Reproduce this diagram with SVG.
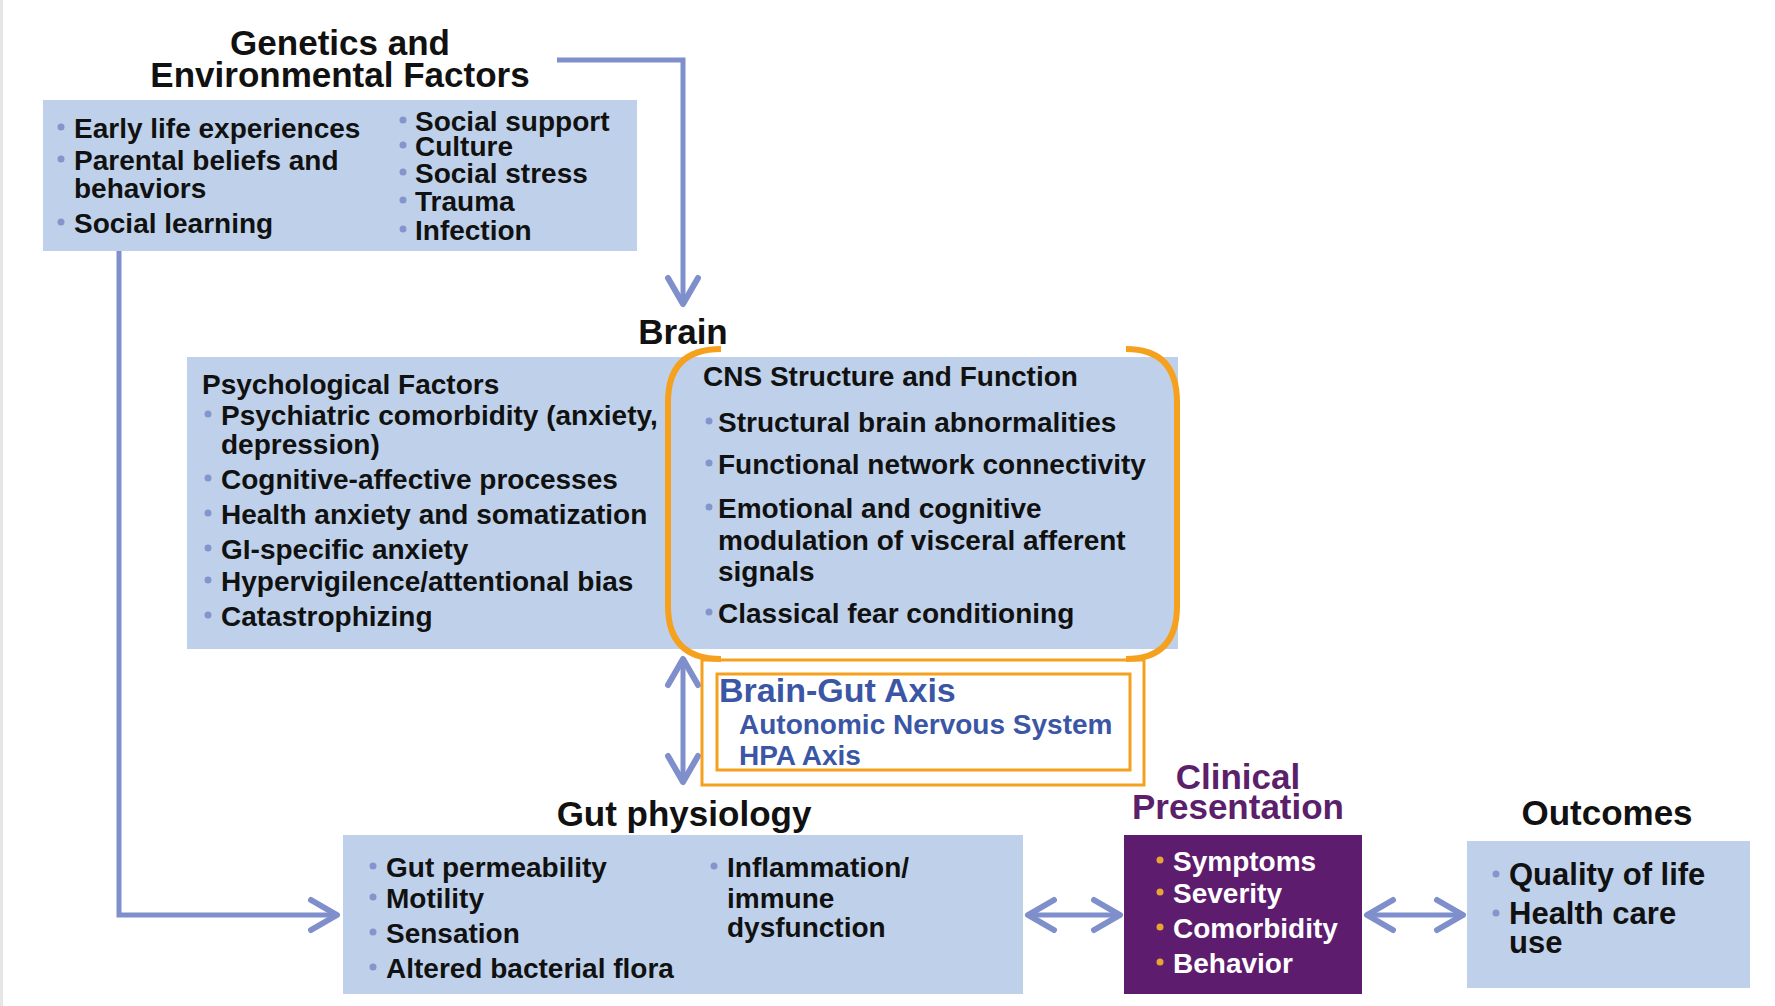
<svg xmlns="http://www.w3.org/2000/svg" width="1775" height="1006" viewBox="0 0 1775 1006">
<defs>
<style>
text { font-family: "Liberation Sans", Arial, sans-serif; font-weight: bold; }
.t { font-size: 28px; fill: #111; }
.h { font-size: 35px; fill: #111; text-anchor: middle; }
.box { fill: #bfd1ea; }
.b { fill: #8494cc; }
.g { fill: #e9a531; }
.w { font-size: 28px; fill: #fff; }
.o { font-size: 31px; fill: #111; }
.p { fill: #5b1f6b; }
.conn { fill: none; stroke: #7f8fcb; stroke-width: 5; }
.or { fill: none; stroke: #f6a11e; }
.bl { fill: #3b56a5; }
</style>
<marker id="ah" viewBox="-34 -22 40 44" refX="0" refY="0" markerWidth="40" markerHeight="44" markerUnits="userSpaceOnUse" orient="auto-start-reverse">
<path d="M -26 -15 L 0 0 L -26 15" fill="none" stroke="#7f8fcb" stroke-width="6" stroke-linecap="round" stroke-linejoin="round"/>
</marker>
</defs>
<rect x="0" y="0" width="1775" height="1006" fill="#fff"/>
<rect x="0" y="0" width="3" height="1006" fill="#e6e6e6"/>

<g id="connectors">
<path class="conn" d="M 557 60 L 683 60 L 683 304" marker-end="url(#ah)"/>
<path class="conn" d="M 119 251 L 119 915 L 337 915" marker-end="url(#ah)"/>
<path class="conn" d="M 683 659 L 683 782" marker-start="url(#ah)" marker-end="url(#ah)"/>
<path class="conn" d="M 1028 915 L 1120 915" marker-start="url(#ah)" marker-end="url(#ah)"/>
<path class="conn" d="M 1367 915 L 1463 915" marker-start="url(#ah)" marker-end="url(#ah)"/>
</g>

<g id="genetics">
<text class="h" x="340" y="55">Genetics and</text>
<text class="h" x="340" y="87">Environmental Factors</text>
<rect class="box" x="43" y="100" width="594" height="151"/>
<circle class="b" cx="61" cy="127" r="3.5"/>
<text class="t" x="74" y="138">Early life experiences</text>
<circle class="b" cx="61" cy="159" r="3.5"/>
<text class="t" x="74" y="170">Parental beliefs and</text>
<text class="t" x="74" y="198">behaviors</text>
<circle class="b" cx="61" cy="222" r="3.5"/>
<text class="t" x="74" y="233">Social learning</text>
<circle class="b" cx="403" cy="120" r="3.5"/>
<text class="t" x="415" y="131">Social support</text>
<circle class="b" cx="403" cy="145" r="3.5"/>
<text class="t" x="415" y="156">Culture</text>
<circle class="b" cx="403" cy="172" r="3.5"/>
<text class="t" x="415" y="183">Social stress</text>
<circle class="b" cx="403" cy="200" r="3.5"/>
<text class="t" x="415" y="211">Trauma</text>
<circle class="b" cx="403" cy="229" r="3.5"/>
<text class="t" x="415" y="240">Infection</text>
</g>

<g id="brain">
<text class="h" x="683" y="344">Brain</text>
<rect class="box" x="187" y="357" width="991" height="292"/>
</g>

<g id="psychological">
<text class="t" x="202" y="394">Psychological Factors</text>
<circle class="b" cx="208" cy="414" r="3.5"/>
<text class="t" x="221" y="425">Psychiatric comorbidity (anxiety,</text>
<text class="t" x="221" y="454">depression)</text>
<circle class="b" cx="208" cy="478" r="3.5"/>
<text class="t" x="221" y="489">Cognitive-affective processes</text>
<circle class="b" cx="208" cy="513" r="3.5"/>
<text class="t" x="221" y="524">Health anxiety and somatization</text>
<circle class="b" cx="208" cy="548" r="3.5"/>
<text class="t" x="221" y="559">GI-specific anxiety</text>
<circle class="b" cx="208" cy="580" r="3.5"/>
<text class="t" x="221" y="591">Hypervigilence/attentional bias</text>
<circle class="b" cx="208" cy="615" r="3.5"/>
<text class="t" x="221" y="626">Catastrophizing</text>
</g>

<g id="cns">
<path class="or" stroke-width="6" d="M 721 349 Q 668 349 668 402 L 668 606 Q 668 659 721 659"/>
<path class="or" stroke-width="6" d="M 1126 349 Q 1177 349 1177 402 L 1177 606 Q 1177 659 1126 659"/>
<text class="t" x="703" y="386">CNS Structure and Function</text>
<circle class="b" cx="709" cy="421" r="3.5"/>
<text class="t" x="718" y="432">Structural brain abnormalities</text>
<circle class="b" cx="709" cy="463" r="3.5"/>
<text class="t" x="718" y="474">Functional network connectivity</text>
<circle class="b" cx="709" cy="507" r="3.5"/>
<text class="t" x="718" y="518">Emotional and cognitive</text>
<text class="t" x="718" y="550">modulation of visceral afferent</text>
<text class="t" x="718" y="581">signals</text>
<circle class="b" cx="709" cy="612" r="3.5"/>
<text class="t" x="718" y="623">Classical fear conditioning</text>
</g>

<g id="brain-gut-axis">
<rect class="or" stroke-width="3" x="702" y="660" width="442" height="125"/>
<rect class="or" stroke-width="3" x="717" y="674" width="413" height="96"/>
<text class="bl" x="719" y="702" font-size="34">Brain-Gut Axis</text>
<text class="bl" x="739" y="734" font-size="28">Autonomic Nervous System</text>
<text class="bl" x="739" y="765" font-size="28">HPA Axis</text>
</g>

<g id="gut">
<text class="h" x="684" y="826">Gut physiology</text>
<rect class="box" x="343" y="835" width="680" height="159"/>
<circle class="b" cx="373" cy="866" r="3.5"/>
<text class="t" x="386" y="877">Gut permeability</text>
<circle class="b" cx="373" cy="897" r="3.5"/>
<text class="t" x="386" y="908">Motility</text>
<circle class="b" cx="373" cy="932" r="3.5"/>
<text class="t" x="386" y="943">Sensation</text>
<circle class="b" cx="373" cy="967" r="3.5"/>
<text class="t" x="386" y="978">Altered bacterial flora</text>
<circle class="b" cx="714" cy="866" r="3.5"/>
<text class="t" x="727" y="877">Inflammation/</text>
<text class="t" x="727" y="908">immune</text>
<text class="t" x="727" y="937">dysfunction</text>
</g>

<g id="clinical">
<text class="h p" x="1238" y="789">Clinical</text>
<text class="h p" x="1238" y="819">Presentation</text>
<rect x="1124" y="835" width="238" height="159" fill="#5e1c6e"/>
<circle class="g" cx="1160" cy="860" r="3.5"/>
<text class="w" x="1173" y="871">Symptoms</text>
<circle class="g" cx="1160" cy="892" r="3.5"/>
<text class="w" x="1173" y="903">Severity</text>
<circle class="g" cx="1160" cy="927" r="3.5"/>
<text class="w" x="1173" y="938">Comorbidity</text>
<circle class="g" cx="1160" cy="962" r="3.5"/>
<text class="w" x="1173" y="973">Behavior</text>
</g>

<g id="outcomes">
<text class="h" x="1607" y="825">Outcomes</text>
<rect class="box" x="1467" y="841" width="283" height="147"/>
<circle class="b" cx="1496" cy="874" r="3.5"/>
<text class="o" x="1509" y="885">Quality of life</text>
<circle class="b" cx="1496" cy="913" r="3.5"/>
<text class="o" x="1509" y="924">Health care</text>
<text class="o" x="1509" y="953">use</text>
</g>
</svg>
